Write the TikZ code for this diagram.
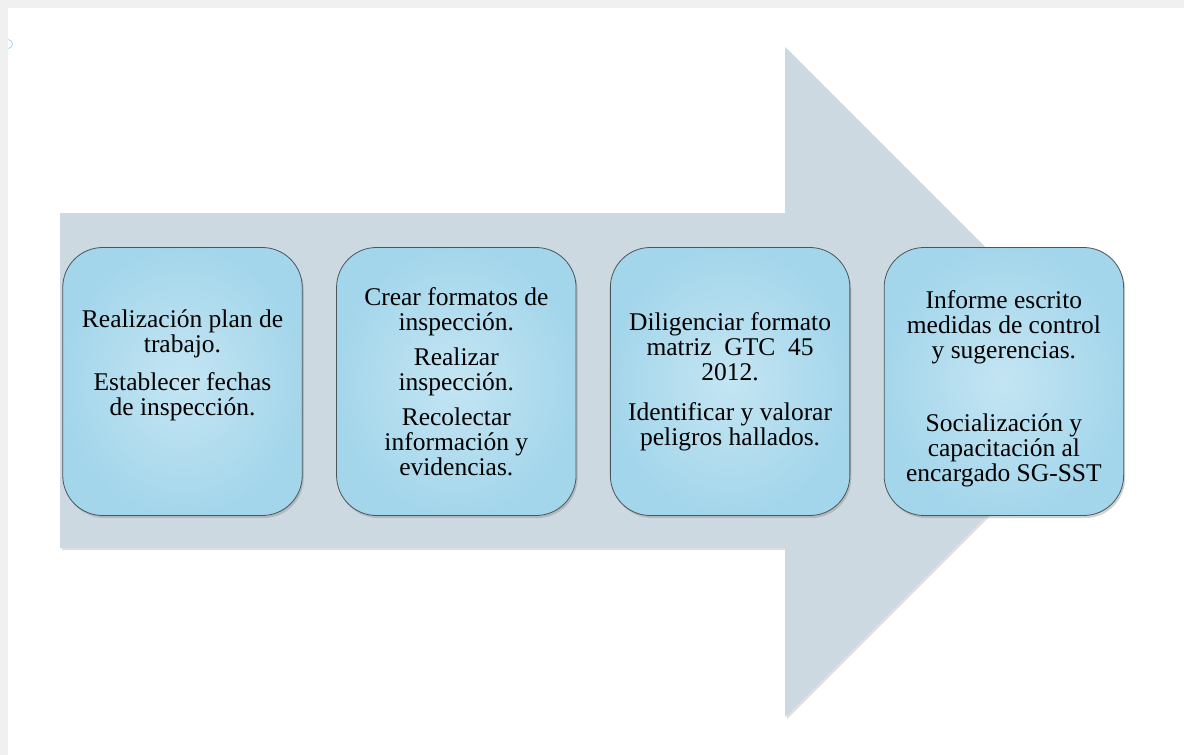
\documentclass[tikz,border=0pt]{standalone}
\usepackage{fontspec}
\setmainfont{Liberation Serif}
\usetikzlibrary{positioning,shadows}
\definecolor{arrowgray}{HTML}{CDD9E0}
\definecolor{boxlight}{HTML}{C4E5F3}
\definecolor{boxdark}{HTML}{A4D6EB}
\definecolor{boxline}{HTML}{4A555C}
\definecolor{stripgray}{HTML}{F0F0F0}
\tikzset{
  stepbox/.style={draw=boxline, line width=0.8pt, rounded corners=40pt,
    minimum width=239.5pt, minimum height=268pt, inner sep=6pt,
    inner color=boxlight, outer color=boxdark,
    drop shadow={shadow xshift=1.5pt, shadow yshift=-2.5pt, opacity=0.35},
    align=center, font=\fontsize{25.5}{25}\selectfont},
  bigarrow/.style={fill=arrowgray,
    drop shadow={shadow xshift=2pt, shadow yshift=-2pt, opacity=0.25}}
}
\begin{document}
\begin{tikzpicture}[x=1pt, y=-1pt, node distance=33.5pt]
\useasboundingbox (0,0) rectangle (1184,755);
\fill[white] (0,0) rectangle (1184,755);
% window edge
\draw[cyan!40, line width=0.8pt] (8,44) circle (4.5pt);
\fill[stripgray] (0,0) rectangle (1184,8);
\fill[stripgray] (0,0) rectangle (8,755);
% big arrow
\fill[bigarrow] (60,213) -- (785,213) -- (785,47) -- (1120,382)
  -- (785,717) -- (785,548) -- (60,548) -- cycle;
% steps
\node[stepbox] (plan) at (182.5,381.5)
  {Realización plan de\\trabajo.\\[13pt]Establecer fechas\\de inspección.\\[12pt]~};
\node[stepbox, right=of plan] (inspeccion)
  {Crear formatos de\\inspección.\\[10pt]Realizar\\inspección.\\[10pt]Recolectar\\información y\\evidencias.};
\node[stepbox, right=of inspeccion] (matriz)
  {Diligenciar formato\\matriz\ \ GTC\ \ 45\\2012.\\[15pt]Identificar y valorar\\peligros hallados.};
\node[stepbox, right=of matriz] (informe)
  {\rule{0pt}{33pt}Informe escrito\\medidas de control\\y sugerencias.\\[48pt]Socialización y\\capacitación al\\encargado SG-SST};
\end{tikzpicture}
\end{document}
